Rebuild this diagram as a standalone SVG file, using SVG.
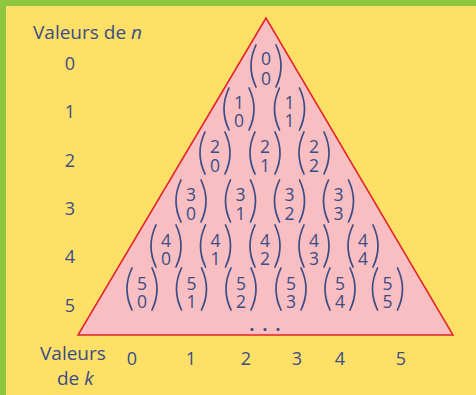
<svg xmlns="http://www.w3.org/2000/svg" xmlns:xlink="http://www.w3.org/1999/xlink" width="476" height="395" viewBox="0 0 476 395">
<style>
.t{font-family:"Open Sans","Noto Sans","DejaVu Sans",sans-serif;fill:#3B4D86}
.lab{font-size:19px}
.num{font-size:18px;text-anchor:middle}
.b text{font-family:"Open Sans","Noto Sans","DejaVu Sans",sans-serif;fill:#3B4D86;font-size:17.5px;text-anchor:middle}
.p{fill:none;stroke:#3B4D86;stroke-width:1.7;stroke-linecap:round}
.dots{font-weight:bold;font-size:17px}
</style>
<defs>
<path id="lp" class="p" d="M-10,0 Q-20,21 -10,42"/>
<path id="rp" class="p" d="M10,0 Q20,21 10,42"/>
</defs>
<rect x="0" y="0" width="476" height="395" fill="#FFE066"/>
<rect x="0" y="0" width="476" height="6" fill="#8DC63F"/>
<rect x="0" y="0" width="6" height="395" fill="#8DC63F"/>
<g id="triangle">
<polygon points="266,18 78,335 453,335" fill="#F9BEC1" stroke="#E5202A" stroke-width="1.5"/>
</g>
<g id="labels">
<text class="t lab" x="33" y="39">Valeurs de <tspan font-style="italic">n</tspan></text>
<text class="t num" x="70" y="70">0</text>
<text class="t num" x="70" y="118">1</text>
<text class="t num" x="70" y="167">2</text>
<text class="t num" x="70" y="215">3</text>
<text class="t num" x="70" y="263">4</text>
<text class="t num" x="70" y="312">5</text>
<text class="t lab" x="40" y="360">Valeurs</text>
<text class="t lab" x="57" y="385">de <tspan font-style="italic">k</tspan></text>
<text class="t num" x="132" y="365">0</text>
<text class="t num" x="191" y="365">1</text>
<text class="t num" x="246" y="365">2</text>
<text class="t num" x="297" y="365">3</text>
<text class="t num" x="340" y="365">4</text>
<text class="t num" x="401" y="365">5</text>
<text class="t num dots" x="252 265 278" y="331">...</text>
</g>
<g id="b-0-0" class="b" transform="translate(266,45)"><use href="#lp"/><use href="#rp"/><text><tspan x="0" y="20">0</tspan><tspan x="0" y="40">0</tspan></text></g>
<g id="b-1-0" class="b" transform="translate(239,88)"><use href="#lp"/><use href="#rp"/><text><tspan x="0" y="21">1</tspan><tspan x="0" y="39">0</tspan></text></g>
<g id="b-1-1" class="b" transform="translate(289.5,88)"><use href="#lp"/><use href="#rp"/><text><tspan x="0" y="21">1</tspan><tspan x="0" y="39">1</tspan></text></g>
<g id="b-2-0" class="b" transform="translate(215,132)"><use href="#lp"/><use href="#rp"/><text><tspan x="0" y="21">2</tspan><tspan x="0" y="40">0</tspan></text></g>
<g id="b-2-1" class="b" transform="translate(265,132)"><use href="#lp"/><use href="#rp"/><text><tspan x="0" y="21">2</tspan><tspan x="0" y="40">1</tspan></text></g>
<g id="b-2-2" class="b" transform="translate(314,132)"><use href="#lp"/><use href="#rp"/><text><tspan x="0" y="21">2</tspan><tspan x="0" y="40">2</tspan></text></g>
<g id="b-3-0" class="b" transform="translate(191,180)"><use href="#lp"/><use href="#rp"/><text><tspan x="0" y="21">3</tspan><tspan x="0" y="40">0</tspan></text></g>
<g id="b-3-1" class="b" transform="translate(240.5,180)"><use href="#lp"/><use href="#rp"/><text><tspan x="0" y="21">3</tspan><tspan x="0" y="40">1</tspan></text></g>
<g id="b-3-2" class="b" transform="translate(289.5,180)"><use href="#lp"/><use href="#rp"/><text><tspan x="0" y="21">3</tspan><tspan x="0" y="40">2</tspan></text></g>
<g id="b-3-3" class="b" transform="translate(338.5,180)"><use href="#lp"/><use href="#rp"/><text><tspan x="0" y="21">3</tspan><tspan x="0" y="40">3</tspan></text></g>
<g id="b-4-0" class="b" transform="translate(166,225)"><use href="#lp"/><use href="#rp"/><text><tspan x="0" y="22">4</tspan><tspan x="0" y="40">0</tspan></text></g>
<g id="b-4-1" class="b" transform="translate(215.5,225)"><use href="#lp"/><use href="#rp"/><text><tspan x="0" y="22">4</tspan><tspan x="0" y="40">1</tspan></text></g>
<g id="b-4-2" class="b" transform="translate(265,225)"><use href="#lp"/><use href="#rp"/><text><tspan x="0" y="22">4</tspan><tspan x="0" y="40">2</tspan></text></g>
<g id="b-4-3" class="b" transform="translate(314,225)"><use href="#lp"/><use href="#rp"/><text><tspan x="0" y="22">4</tspan><tspan x="0" y="40">3</tspan></text></g>
<g id="b-4-4" class="b" transform="translate(363,225)"><use href="#lp"/><use href="#rp"/><text><tspan x="0" y="22">4</tspan><tspan x="0" y="40">4</tspan></text></g>
<g id="b-5-0" class="b" transform="translate(142,268)"><use href="#lp"/><use href="#rp"/><text><tspan x="0" y="22">5</tspan><tspan x="0" y="40">0</tspan></text></g>
<g id="b-5-1" class="b" transform="translate(191.5,268)"><use href="#lp"/><use href="#rp"/><text><tspan x="0" y="22">5</tspan><tspan x="0" y="40">1</tspan></text></g>
<g id="b-5-2" class="b" transform="translate(241,268)"><use href="#lp"/><use href="#rp"/><text><tspan x="0" y="22">5</tspan><tspan x="0" y="40">2</tspan></text></g>
<g id="b-5-3" class="b" transform="translate(291,268)"><use href="#lp"/><use href="#rp"/><text><tspan x="0" y="22">5</tspan><tspan x="0" y="40">3</tspan></text></g>
<g id="b-5-4" class="b" transform="translate(340,268)"><use href="#lp"/><use href="#rp"/><text><tspan x="0" y="22">5</tspan><tspan x="0" y="40">4</tspan></text></g>
<g id="b-5-5" class="b" transform="translate(387.5,268)"><use href="#lp"/><use href="#rp"/><text><tspan x="0" y="22">5</tspan><tspan x="0" y="40">5</tspan></text></g>
<g id="connectors"></g>
</svg>
